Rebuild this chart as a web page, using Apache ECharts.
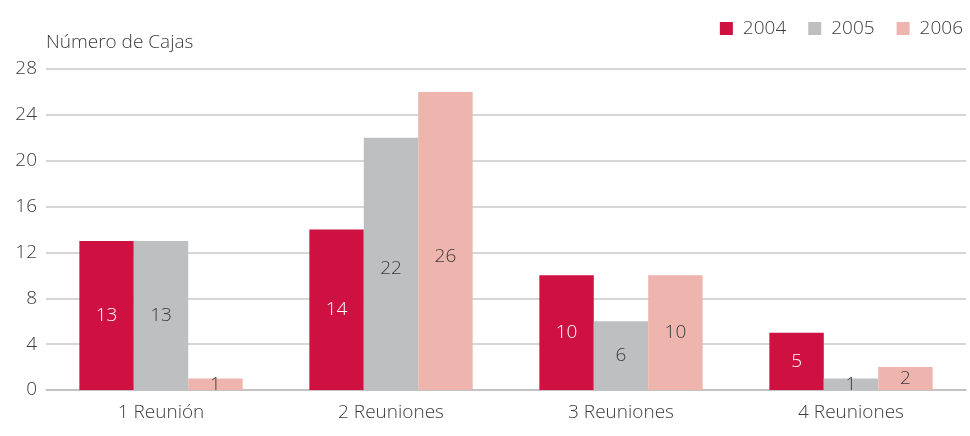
<!DOCTYPE html>
<html>
<head>
<meta charset="utf-8">
<script src="https://cdn.jsdelivr.net/npm/echarts@6/dist/echarts.min.js"></script>
<style>
  html, body { margin: 0; padding: 0; background: #ffffff; }
  #main { width: 970px; height: 436px; }
</style>
</head>
<body>
<div id="main"></div>
<script>
  // datos
  const categories = ['1 Reunión', '2 Reuniones', '3 Reuniones', '4 Reuniones'];
  const years = ['2004', '2005', '2006'];
  const values2004 = [13, 14, 10, 5];
  const values2005 = [13, 22, 6, 1];
  const values2006 = [1, 26, 10, 2];
  const yTicks = [0, 4, 8, 12, 16, 20, 24, 28];

  const colors = ['#cf1141', '#bebfc1', '#edb5ae'];
  const labelColors = ['#ffffff', '#3c3c3c', '#3c3c3c'];
  const font = '"Open Sans", "Noto Sans", sans-serif';
  const textStyle = { fontSize: 19, color: '#3c3c3c', fontFamily: font, fontWeight: 300 };

  function makeSeries(name, data, i) {
    return {
      name: name,
      type: 'bar',
      data: data,
      barGap: '0%',
      barCategoryGap: '29%',
      itemStyle: { color: colors[i] },
      label: Object.assign({}, textStyle, {
        show: true,
        position: 'inside',
        color: labelColors[i]
      })
    };
  }

  const series = [
    makeSeries(years[0], values2004, 0),
    makeSeries(years[1], values2005, 1),
    makeSeries(years[2], values2006, 2)
  ];
  // etiquetas un poco más abajo en el grupo 2 (como en el original)
  series[1].data = values2005.map((v, i) => i === 1 ? { value: v, label: { offset: [0, 5] } } : v);
  series[2].data = values2006.map((v, i) => i === 1 ? { value: v, label: { offset: [0, 16] } } : v);

  const myChart = echarts.init(document.getElementById('main'));
  myChart.setOption({
    animation: false,
    color: colors,
    legend: {
      top: 14,
      right: 2,
      itemWidth: 13,
      itemHeight: 13,
      itemGap: 22,
      icon: 'rect',
      textStyle: Object.assign({}, textStyle, { padding: [0, 0, 0, 5] }),
      data: years
    },
    grid: { left: 46, right: 4, top: 69, bottom: 46 },
    xAxis: {
      type: 'category',
      data: categories,
      axisLine: { lineStyle: { color: '#bdbdbd', width: 1.5 } },
      axisTick: { show: false },
      axisLabel: Object.assign({}, textStyle, { margin: 13 })
    },
    yAxis: {
      type: 'value',
      min: yTicks[0],
      max: yTicks[yTicks.length - 1],
      interval: 4,
      name: 'Número de Cajas',
      nameLocation: 'end',
      nameGap: 17,
      nameTextStyle: Object.assign({}, textStyle, { align: 'left' }),
      axisLine: { show: false },
      axisTick: { show: false },
      splitLine: { lineStyle: { color: '#c8c8c8', width: 1.5 } },
      axisLabel: Object.assign({}, textStyle, { margin: 9 })
    },
    series: series
  });
</script>
</body>
</html>
